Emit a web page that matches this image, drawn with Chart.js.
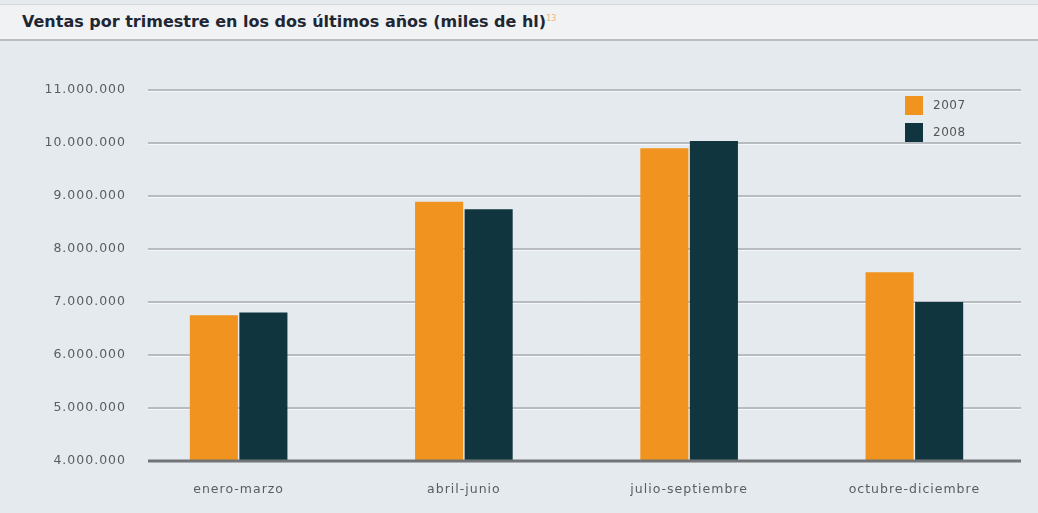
<!DOCTYPE html>
<html>
<head>
<meta charset="utf-8">
<script src="https://cdn.jsdelivr.net/npm/chart.js@4"></script>
<style>
    html, body { margin: 0; padding: 0; }
    body { width: 1038px; height: 513px; background: #e5eaee; position: relative; overflow: hidden; font-family: "DejaVu Sans", sans-serif; }
    #header {
        position: absolute; left: 0; top: 4px; width: 1038px; height: 34px;
        background: #f1f2f3; border-top: 1px solid #d6d9dc; border-bottom: 2px solid #b9bdc1;
    }
    #title {
        position: absolute; left: 22px; top: 7px; font-size: 16px; font-weight: bold;
        color: #1e2733;
    }
    #title sup { color: #f3b27a; font-size: 8px; font-weight: normal; }
    #wrap { position: absolute; left: 0; top: 0; width: 1038px; height: 513px; }
    #legend { position: absolute; left: 905px; top: 96px; font-size: 12px; color: #555; }
    #legend div { height: 27px; display: flex; align-items: flex-start; }
    #legend span.box { width: 18px; height: 19px; display: inline-block; margin-right: 10px; }
    #legend span.txt { line-height: 19px; letter-spacing: 0.5px; }
</style>
</head>
<body>
<div id="header"><div id="title">Ventas por trimestre en los dos últimos años (miles de hl)<sup>13</sup></div></div>
<div id="wrap"><canvas id="myChart" width="1038" height="513"></canvas></div>
<div id="legend"></div>
<script>
// datos
const categories = ['enero-marzo', 'abril-junio', 'julio-septiembre', 'octubre-diciembre'];
const years = ['2007', '2008'];
const ventas2007 = [6750000, 8890000, 9900000, 7560000];
const ventas2008 = [6800000, 8750000, 10040000, 7000000];
const yTicks = [4000000, 5000000, 6000000, 7000000, 8000000, 9000000, 10000000, 11000000];

const colors = ['#f0931f', '#10353f'];

function fmt(v) {
    return String(v).replace(/\B(?=(\d{3})+(?!\d))/g, '.');
}

// líneas de fondo, empiezan un poco a la derecha del eje
const gridPlugin = {
    id: 'grid',
    beforeDatasetsDraw(chart) {
        const ctx = chart.ctx;
        const y = chart.scales.y;
        const area = chart.chartArea;
        ctx.save();
        yTicks.forEach(function (t) {
            const py = Math.round(y.getPixelForValue(t));
            if (t === yTicks[0]) return;
            ctx.strokeStyle = '#a9adb1';
            ctx.lineWidth = 1.5;
            ctx.beginPath();
            ctx.moveTo(area.left + 22, py);
            ctx.lineTo(area.right - 6, py);
            ctx.stroke();
            ctx.strokeStyle = 'rgba(255,255,255,0.6)';
            ctx.lineWidth = 1;
            ctx.beginPath();
            ctx.moveTo(area.left + 22, py + 1.5);
            ctx.lineTo(area.right - 6, py + 1.5);
            ctx.stroke();
        });
        ctx.restore();
    },
    afterDatasetsDraw(chart) {
        const ctx = chart.ctx;
        const y = chart.scales.y;
        const area = chart.chartArea;
        const py = y.getPixelForValue(yTicks[0]);
        ctx.save();
        ctx.strokeStyle = '#727578';
        ctx.lineWidth = 3;
        ctx.beginPath();
        ctx.moveTo(area.left + 22, py);
        ctx.lineTo(area.right - 6, py);
        ctx.stroke();
        ctx.restore();
    }
};

const spacing = {
    id: 'spacing',
    beforeDraw(chart) {
        chart.ctx.letterSpacing = '1px';
    }
};

const ctx = document.getElementById('myChart').getContext('2d');
const chart = new Chart(ctx, {
    type: 'bar',
    data: {
        labels: categories,
        datasets: [
            { label: years[0], data: ventas2007, backgroundColor: colors[0] },
            { label: years[1], data: ventas2008, backgroundColor: colors[1] }
        ]
    },
    options: {
        responsive: false,
        animation: false,
        layout: { padding: { left: 0, right: 11, top: 90, bottom: 0 } },
        datasets: {
            bar: { categoryPercentage: 0.44, barPercentage: 0.97 }
        },
        scales: {
            x: {
                grid: { display: false, drawTicks: false },
                border: { display: false },
                ticks: { color: '#5a5d60', font: { family: 'DejaVu Sans', size: 12.5 }, padding: 21 },
                afterFit(scale) { scale.height = 52; }
            },
            y: {
                min: 4000000,
                max: 11000000,
                grid: { display: false, drawTicks: false },
                border: { display: false },
                afterBuildTicks(scale) { scale.ticks = yTicks.map(v => ({ value: v })); },
                ticks: {
                    color: '#5a5d60',
                    font: { family: 'DejaVu Sans', size: 12.5 },
                    padding: 0,
                    callback: v => fmt(v)
                },
                afterFit(scale) { scale.width = 126; }
            }
        },
        plugins: {
            legend: { display: false },
            tooltip: { enabled: false }
        }
    },
    plugins: [gridPlugin, spacing]
});

// leyenda vertical
const legend = document.getElementById('legend');
chart.data.datasets.forEach(function (ds) {
    const row = document.createElement('div');
    row.innerHTML = '<span class="box" style="background:' + ds.backgroundColor + '"></span><span class="txt">' + ds.label + '</span>';
    legend.appendChild(row);
});
</script>
</body>
</html>
